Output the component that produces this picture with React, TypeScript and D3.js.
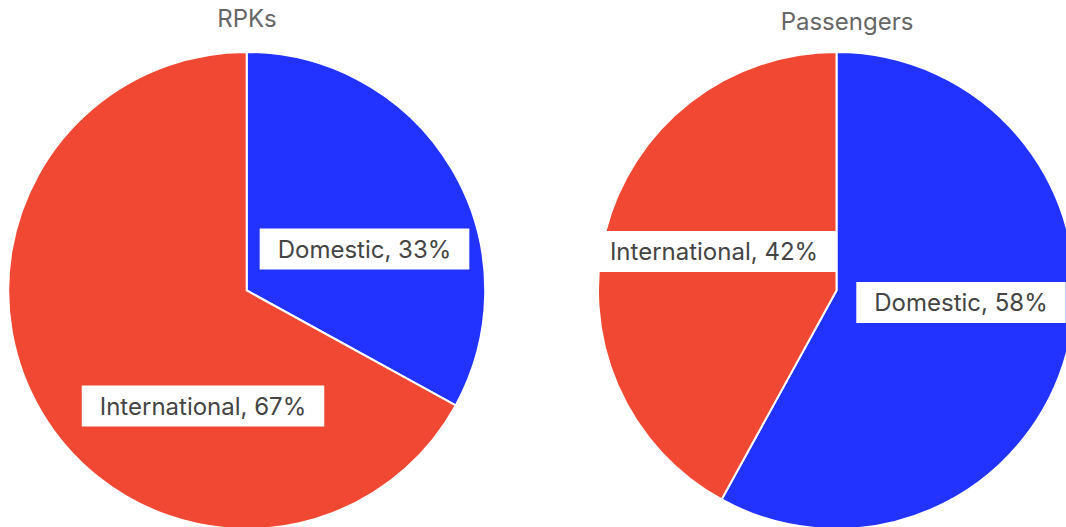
import React, { useEffect, useRef } from "react";
import * as d3 from "d3";

const categories = ["Domestic", "International"];
const rpkValues = [33, 67];
const passengerValues = [58, 42];
const chartTitles = ["RPKs", "Passengers"];

const colors = ["#2233FF", "#F14834"];

const W = 1066;
const H = 527;
const R = 238.5;

const layout = [
  { cx: 246.7, cy: 290.5, titleX: 247, titleY: 27, labels: [[364.5, 249], [203, 406]] },
  { cx: 836.5, cy: 290.5, titleX: 847, titleY: 30, labels: [[961, 302.5], [714, 251.5]] },
];

export default function App() {
  const ref = useRef<SVGSVGElement | null>(null);

  useEffect(() => {
    const svg = d3.select(ref.current);
    svg.selectAll("*").remove();
    const datasets = [rpkValues, passengerValues];
    const pie = d3.pie<number>().sort(null).value((d) => d);
    const arc = d3.arc<d3.PieArcDatum<number>>().innerRadius(0).outerRadius(R);

    datasets.forEach((vals, i) => {
      const L = layout[i];
      const g = svg.append("g").attr("transform", `translate(${L.cx},${L.cy})`);
      const arcs = pie(vals);
      g.selectAll("path")
        .data(arcs)
        .enter()
        .append("path")
        .attr("d", arc)
        .attr("fill", (_d, j) => colors[j])
        .attr("stroke", "#fff")
        .attr("stroke-width", 2);

      svg
        .append("text")
        .attr("x", L.titleX)
        .attr("y", L.titleY)
        .attr("text-anchor", "middle")
        .attr("font-family", "Inter, 'Noto Sans', sans-serif")
        .attr("font-size", 24)
        .attr("fill", "#666")
        .text(chartTitles[i]);

      arcs.forEach((a, j) => {
        const [lx, ly] = L.labels[j];
        const lg = svg.append("g");
        const rect = lg.append("rect").attr("fill", "#fff");
        const t = lg
          .append("text")
          .attr("x", lx)
          .attr("y", ly)
          .attr("text-anchor", "middle")
          .attr("dominant-baseline", "central")
          .attr("font-family", "Inter, 'Noto Sans', sans-serif")
          .attr("font-size", 24)
          .attr("fill", "#444")
          .text(`${categories[j]}, ${vals[j]}%`);
        const node = t.node() as SVGTextElement;
        const w = node.getComputedTextLength();
        const padX = 18;
        const bh = 41;
        rect
          .attr("x", lx - w / 2 - padX)
          .attr("y", ly - bh / 2)
          .attr("width", w + 2 * padX)
          .attr("height", bh);
      });
    });
  }, []);

  return (
    <svg
      ref={ref}
      width={W}
      height={H}
      style={{ position: "absolute", left: 0, top: 0, background: "#fff" }}
    />
  );
}
